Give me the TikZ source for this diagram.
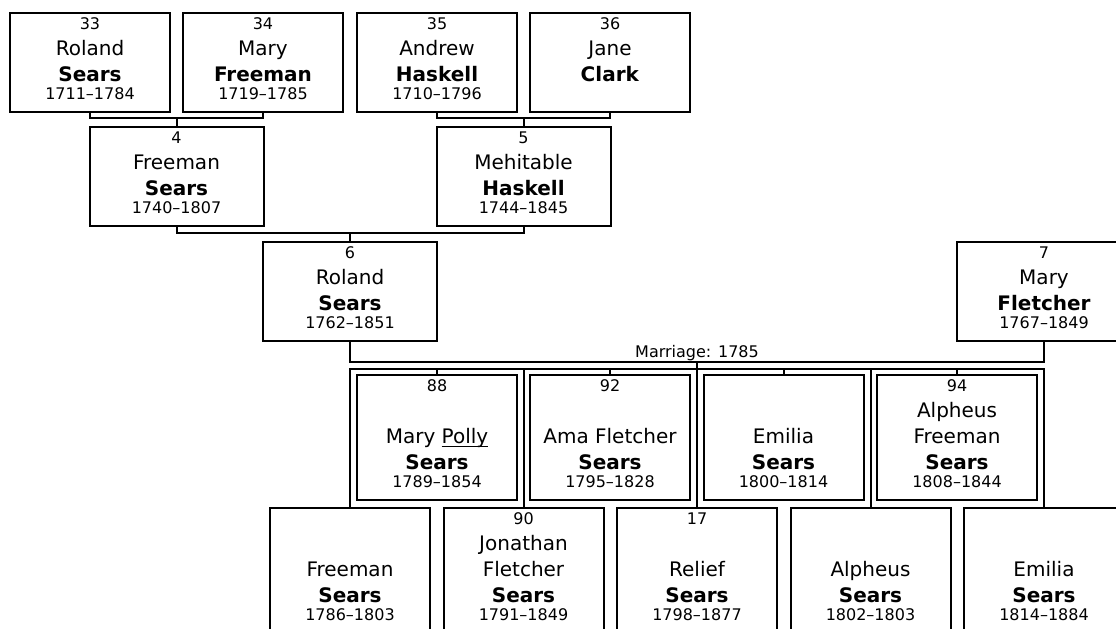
\documentclass[tikz,border=0pt]{standalone}
\usepackage{fontspec}
\setmainfont{DejaVu Sans}
\newcommand{\pid}[1]{\rule{0pt}{9pt}{\fontsize{12}{12}\selectfont #1}}
\newcommand{\life}[1]{\rule[-5.6pt]{0pt}{5.6pt}{\fontsize{12}{12}\selectfont #1}}
\newcommand{\nick}[1]{\setbox0=\hbox{#1}\rlap{\rule[-2.25pt]{\wd0}{0.75pt}}\box0}
\tikzset{
  person/.style={shape=rectangle, draw=black, line width=1.5pt, fill=white, inner sep=0pt,
    minimum width=120pt, align=center, font=\fontsize{15}{19.5}\selectfont},
  elder/.style={person, minimum height=74.25pt},
  kid/.style={person, minimum height=93.75pt},
  wide/.style={minimum width=130.5pt},
  link/.style={line width=1.5pt}
}
\begin{document}
\begin{tikzpicture}[x=0.75pt, y=-0.75pt]
        \useasboundingbox (0,0) rectangle (1116,628);
        \clip (0,0) rectangle (1116,628);
        % great-grandparents
        \node[elder] (p33) at (90, 62.5) {\pid{33}\\Roland\\\textbf{Sears}\\[-6pt]\life{1711–1784}};
        \node[elder] (p34) at (263, 62.5) {\pid{34}\\Mary\\\textbf{Freeman}\\[-6pt]\life{1719–1785}};
        \node[elder] (p35) at (437, 62.5) {\pid{35}\\Andrew\\\textbf{Haskell}\\[-6pt]\life{1710–1796}};
        \node[elder] (p36) at (610, 62.5) {\pid{36}\\Jane\\\textbf{Clark}\\[-6pt]\life{}};
        % grandparents
        \node[elder,wide] (p4) at (176.5, 176.5) {\pid{4}\\Freeman\\\textbf{Sears}\\[-6pt]\life{1740–1807}};
        \node[elder,wide] (p5) at (523.5, 176.5) {\pid{5}\\Mehitable\\\textbf{Haskell}\\[-6pt]\life{1744–1845}};
        % parents
        \node[elder,wide] (p6) at (350, 291.5) {\pid{6}\\Roland\\\textbf{Sears}\\[-6pt]\life{1762–1851}};
        \node[elder,wide] (p7) at (1044, 291.5) {\pid{7}\\Mary\\\textbf{Fletcher}\\[-6pt]\life{1767–1849}};
        % children
        \node[kid] (k1) at (437, 437.5) {\pid{88}\\\mbox{}\\Mary \nick{Polly}\\\textbf{Sears}\\[-6pt]\life{1789–1854}};
        \node[kid] (k2) at (610, 437.5) {\pid{92}\\\mbox{}\\Ama Fletcher\\\textbf{Sears}\\[-6pt]\life{1795–1828}};
        \node[kid] (k3) at (783.5, 437.5) {\pid{}\\\mbox{}\\Emilia\\\textbf{Sears}\\[-6pt]\life{1800–1814}};
        \node[kid] (k4) at (957, 437.5) {\pid{94}\\Alpheus\\Freeman\\\textbf{Sears}\\[-6pt]\life{1808–1844}};
        \node[kid] (c1) at (350, 570.5) {\pid{}\\\mbox{}\\Freeman\\\textbf{Sears}\\[-6pt]\life{1786–1803}};
        \node[kid] (c2) at (523.5, 570.5) {\pid{90}\\Jonathan\\Fletcher\\\textbf{Sears}\\[-6pt]\life{1791–1849}};
        \node[kid] (c3) at (697, 570.5) {\pid{17}\\\mbox{}\\Relief\\\textbf{Sears}\\[-6pt]\life{1798–1877}};
        \node[kid] (c4) at (870.5, 570.5) {\pid{}\\\mbox{}\\Alpheus\\\textbf{Sears}\\[-6pt]\life{1802–1803}};
        \node[kid] (c5) at (1044, 570.5) {\pid{}\\\mbox{}\\Emilia\\\textbf{Sears}\\[-6pt]\life{1814–1884}};
        % junctions
        \coordinate (j1) at (176.5, 118);
        \coordinate (j2) at (523.5, 118);
        \coordinate (j3) at (350, 233);
        \coordinate (wed) at (697, 362);
        \coordinate (fam) at (697, 369);
        \node[anchor=base, inner sep=0pt, font=\fontsize{12}{12}\selectfont] (wedtext) at (697, 357) {Marriage: 1785};
        \draw[link] (p33.south) |- (j1) -| (p34.south);
        \draw[link] (j1) -- (p4.north);
        \draw[link] (p35.south) |- (j2) -| (p36.south);
        \draw[link] (j2) -- (p5.north);
        \draw[link] (p4.south) |- (j3) -| (p5.south);
        \draw[link] (j3) -- (p6.north);
        \draw[link] (p6.south) |- (wed) -| (p7.south);
        \draw[link] (wed) -- (fam);
        \draw[link] (c1.north) |- (fam) -| (c5.north);
        \draw[link] (c2.north) -- (c2.north |- fam);
        \draw[link] (c3.north) -- (c3.north |- fam);
        \draw[link] (c4.north) -- (c4.north |- fam);
        \draw[link] (k1.north) -- (k1.north |- fam);
        \draw[link] (k2.north) -- (k2.north |- fam);
        \draw[link] (k3.north) -- (k3.north |- fam);
        \draw[link] (k4.north) -- (k4.north |- fam);
\end{tikzpicture}
\end{document}
